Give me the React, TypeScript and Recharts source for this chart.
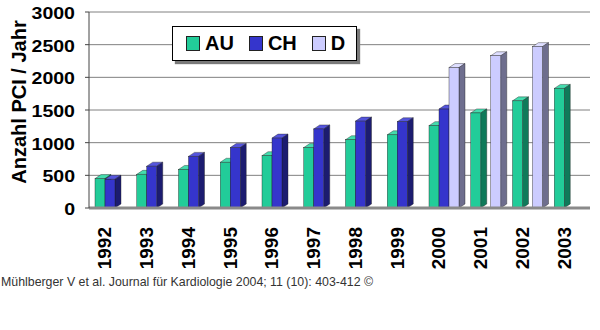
import { Bar, BarChart, CartesianGrid, XAxis, YAxis } from 'recharts';

const years = ['1992', '1993', '1994', '1995', '1996', '1997', '1998', '1999', '2000', '2001', '2002', '2003'];
const auValues = [450, 515, 590, 700, 800, 925, 1045, 1120, 1260, 1455, 1640, 1830];
const chValues = [440, 640, 790, 925, 1070, 1210, 1330, 1320, 1515, null, null, null];
const dValues = [null, null, null, null, null, null, null, null, 2150, 2330, 2470, null];
const yTicks = [0, 500, 1000, 1500, 2000, 2500, 3000];

const series = [
  { key: 'AU', values: auValues, front: '#22cc99', top: '#44dcae', side: '#0f7a5a' },
  { key: 'CH', values: chValues, front: '#3535cc', top: '#5555dd', side: '#1c1c70' },
  { key: 'D', values: dValues, front: '#ccccff', top: '#dedeff', side: '#6e6e8e' },
];

const data = years.map((year, i) => ({
  year,
  AU: auValues[i],
  CH: chValues[i],
  D: dValues[i],
}));

const font = '"Liberation Sans", Arial, sans-serif';
const DX = 6;
const DY = 4;

function Bar3D(props: any) {
  const { x, y, width, height, colors, value } = props;
  if (value == null || !height || height <= 0) return null;
  const r = x + width;
  const b = y + height;
  return (
    <g>
      <polygon
        points={`${x},${y} ${x + DX},${y - DY} ${r + DX},${y - DY} ${r},${y}`}
        fill={colors.top}
        stroke="#222"
        strokeWidth={0.4}
      />
      <polygon
        points={`${r},${y} ${r + DX},${y - DY} ${r + DX},${b - DY} ${r},${b}`}
        fill={colors.side}
        stroke="#222"
        strokeWidth={0.4}
      />
      <rect x={x} y={y} width={width} height={height} fill={colors.front} stroke="#222" strokeWidth={0.4} />
    </g>
  );
}

function YTick(props: any) {
  const { x, y, payload } = props;
  return (
    <text
      transform={`translate(${x - 2},${y + 1}) scale(1.15,1)`}
      textAnchor="end"
      dominantBaseline="central"
      fontFamily={font}
      fontWeight="bold"
      fontSize={17}
      fill="#000"
    >
      {payload.value}
    </text>
  );
}

function XTick(props: any) {
  const { x, y, payload } = props;
  return (
    <text
      transform={`translate(${x - 5},${y + 11}) rotate(-90)`}
      textAnchor="end"
      dominantBaseline="central"
      fontFamily={font}
      fontWeight="bold"
      fontSize={19}
      fill="#000"
    >
      {payload.value}
    </text>
  );
}

function LegendBox() {
  return (
    <div
      style={{
        position: 'absolute',
        left: 172,
        top: 26,
        width: 185,
        height: 35,
        border: '1px solid #000',
        background: '#fff',
        boxShadow: '3px 3px 1px #7a7a7a',
        display: 'flex',
        alignItems: 'center',
        paddingLeft: 13,
        boxSizing: 'border-box',
        fontFamily: font,
        fontWeight: 'bold',
        fontSize: 20,
      }}
    >
      {series.map((s) => (
        <div key={s.key} style={{ display: 'flex', alignItems: 'center', marginRight: 15 }}>
          <span
            style={{
              display: 'inline-block',
              width: 12,
              height: 13,
              background: s.front,
              border: '1px solid #222',
              marginRight: 5,
            }}
          />
          <span>{s.key}</span>
        </div>
      ))}
    </div>
  );
}

export default function App() {
  return (
    <div style={{ position: 'absolute', left: 0, top: 0, width: 600, height: 330, background: '#fff' }}>
      <BarChart
        width={600}
        height={330}
        data={data}
        margin={{ top: 12, right: 10, bottom: 0, left: 1 }}
        barSize={10}
        barGap={0}
      >
        <CartesianGrid vertical={false} stroke="#808080" />
        <XAxis
          dataKey="year"
          height={122}
          tick={<XTick />}
          tickLine={false}
          axisLine={{ stroke: '#8a8a8a', strokeWidth: 3 }}
          interval={0}
        />
        <YAxis
          width={88}
          domain={[0, 3000]}
          ticks={yTicks}
          tick={<YTick />}
          tickSize={4}
          tickMargin={8}
          axisLine={{ stroke: '#444' }}
          tickLine={{ stroke: '#444' }}
          label={{
            content: () => (
              <text
                transform="translate(19,102) rotate(-90)"
                textAnchor="middle"
                dominantBaseline="central"
                fontFamily={font}
                fontWeight="bold"
                fontSize={20}
                fill="#000"
              >
                Anzahl PCI / Jahr
              </text>
            ),
          }}
        />
        <YAxis yAxisId="frame" orientation="right" width={0} tick={false} axisLine={{ stroke: '#808080' }} />
        {series.map((s) => (
          <Bar
            key={s.key}
            dataKey={s.key}
            fill={s.front}
            isAnimationActive={false}
            shape={(p: any) => <Bar3D {...p} colors={s} />}
          />
        ))}
      </BarChart>
      <LegendBox />
      <div
        style={{
          position: 'absolute',
          left: 1,
          top: 274,
          fontFamily: font,
          fontSize: 13,
          color: '#333',
          whiteSpace: 'nowrap',
          transform: 'scaleX(0.95)',
          transformOrigin: 'left',
        }}
      >
        Mühlberger V et al. Journal für Kardiologie 2004; 11 (10): 403-412 ©
      </div>
    </div>
  );
}
